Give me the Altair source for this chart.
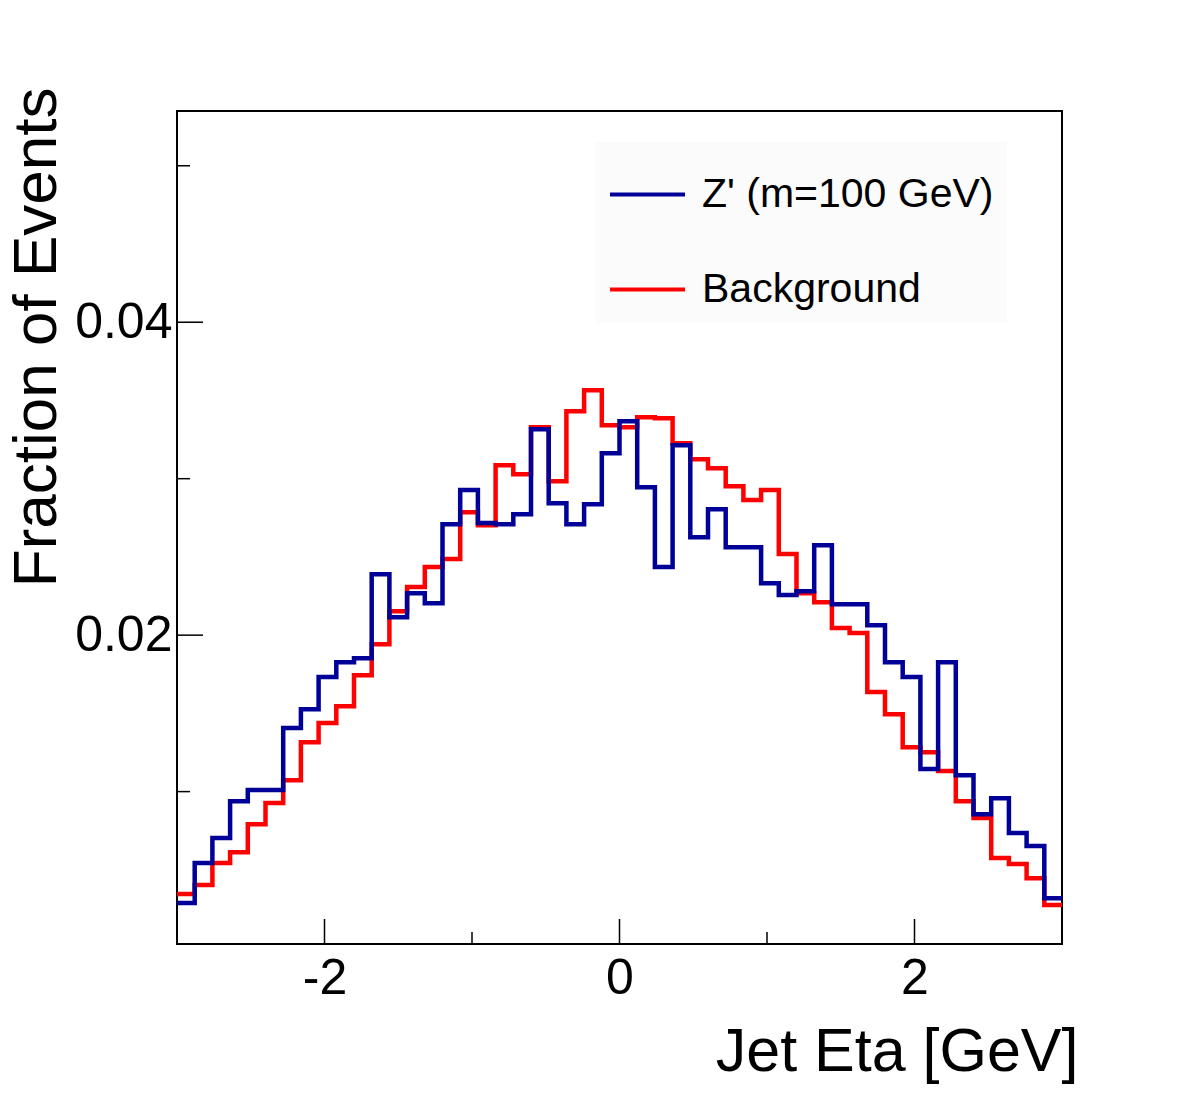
import altair as alt
import numpy as np
import pandas as pd

# Binning of the jet eta histogram: 50 equal-width bins over [-3, 3]
ETA_MIN, ETA_MAX, N_BINS = -3.0, 3.0, 50

SIGNAL_NAME = "Z' (m=100 GeV)"
BACKGROUND_NAME = "Background"

# Normalised bin contents (fraction of events per bin)
signal = [
    0.00288, 0.00543, 0.00703, 0.00939, 0.01010, 0.01010, 0.01406, 0.01527, 0.01732, 0.01827,
    0.01853, 0.02390, 0.02115, 0.02268, 0.02204, 0.02709, 0.02927, 0.02716, 0.02709, 0.02773,
    0.03316, 0.02843, 0.02709, 0.02837, 0.03163, 0.03367, 0.02946, 0.02435, 0.03214, 0.02626,
    0.02805, 0.02562, 0.02562, 0.02332, 0.02256, 0.02281, 0.02575, 0.02198, 0.02198, 0.02064,
    0.01827, 0.01732, 0.01144, 0.01827, 0.01105, 0.00856, 0.00958, 0.00735, 0.00652, 0.00319,
]
background = [
    0.00345, 0.00403, 0.00543, 0.00613, 0.00792, 0.00927, 0.01073, 0.01316, 0.01438, 0.01546,
    0.01744, 0.01942, 0.02153, 0.02307, 0.02435, 0.02486, 0.02786, 0.02703, 0.03086, 0.03029,
    0.03329, 0.02984, 0.03431, 0.03565, 0.03342, 0.03329, 0.03393, 0.03387, 0.03227, 0.03125,
    0.03067, 0.02952, 0.02863, 0.02927, 0.02518, 0.02268, 0.02211, 0.02045, 0.02013, 0.01636,
    0.01495, 0.01284, 0.01252, 0.01131, 0.00939, 0.00831, 0.00575, 0.00537, 0.00447, 0.00275,
]

# Axis ticks
x_major = [-2, 0, 2]
x_minor = [-1, 1]
y_major = [0.02, 0.04]
y_minor = [0.01, 0.03, 0.05]

Y_MIN, Y_MAX = 0.00026, 0.0535

W, H = 885, 833

edges = np.linspace(ETA_MIN, ETA_MAX, N_BINS + 1)


def step_frame(values, name):
    # left edge of each bin, plus the upper edge repeating the last bin's content
    return pd.DataFrame({
        "eta": edges,
        "fraction": list(values) + [values[-1]],
        "sample": name,
    })


x_scale = alt.Scale(domain=[ETA_MIN, ETA_MAX], nice=False, zero=False)
y_scale = alt.Scale(domain=[Y_MIN, Y_MAX], nice=False, zero=False)
color_scale = alt.Scale(domain=[SIGNAL_NAME, BACKGROUND_NAME], range=["#000099", "#ff0000"])

FONT = "Liberation Sans"

x_axis = alt.Axis(
    values=x_major, format="d", ticks=False, domain=False, grid=False,
    # plain hyphen for negative numbers
    labelExpr="replace(datum.label, '\u2212', '-')",
    labelFont=FONT, labelFontSize=50, labelColor="black", labelPadding=9,
    title="Jet Eta [GeV]", titleFont=FONT, titleFontSize=61, titleFontWeight="normal",
    titleColor="black", titleAlign="right", titleBaseline="alphabetic",
    titleX=901, titleY=126, titleAngle=0,
)
y_axis = alt.Axis(
    values=y_major, format=".2f", ticks=False, domain=False, grid=False,
    labelFont=FONT, labelFontSize=50, labelColor="black", labelPadding=5,
    title="Fraction of Events", titleFont=FONT, titleFontSize=62, titleFontWeight="normal",
    titleColor="black", titleAngle=270, titleAlign="right", titleBaseline="alphabetic",
    titleX=-122, titleY=-24,
)

x_enc = alt.X("eta:Q", scale=x_scale, axis=x_axis)
y_enc = alt.Y("fraction:Q", scale=y_scale, axis=y_axis)

legend = alt.Legend(
    orient="none", legendX=418, legendY=31, direction="vertical", title=None,
    fillColor="#fbfbfb", padding=13, symbolType="stroke", symbolSize=5625,
    symbolStrokeWidth=4, labelFont=FONT, labelFontSize=41, labelColor="black",
    labelOffset=15, labelLimit=0, rowPadding=35,
)


def hist_layer(values, name):
    return alt.Chart(step_frame(values, name)).mark_line(
        interpolate="step-after", strokeWidth=4.5, clip=True
    ).encode(
        x=x_enc,
        y=y_enc,
        color=alt.Color("sample:N", scale=color_scale, legend=legend),
    )


# background first so the signal histogram sits on top
bkg_line = hist_layer(background, BACKGROUND_NAME)
sig_line = hist_layer(signal, SIGNAL_NAME)


def x_ticks(values, length):
    return alt.Chart(pd.DataFrame({"eta": values})).mark_rule(
        color="black", strokeWidth=1.5
    ).encode(
        x=x_enc,
        y=alt.value(H), y2=alt.value(H - length),
    )


def y_ticks(values, length):
    return alt.Chart(pd.DataFrame({"fraction": values})).mark_rule(
        color="black", strokeWidth=1.5
    ).encode(
        y=y_enc,
        x=alt.value(0), x2=alt.value(length),
    )


chart = alt.layer(
    bkg_line, sig_line,
    x_ticks(x_major, 25), x_ticks(x_minor, 12),
    y_ticks(y_major, 26), y_ticks(y_minor, 13),
).properties(
    width=W, height=H,
    autosize=alt.AutoSizeParams(type="none"),
    padding={"left": 177, "top": 111, "right": 120, "bottom": 169},
    background="white",
).configure_view(
    stroke="black", strokeWidth=2
)

chart.save("out.html", embed_options={"renderer": "svg", "actions": False})
